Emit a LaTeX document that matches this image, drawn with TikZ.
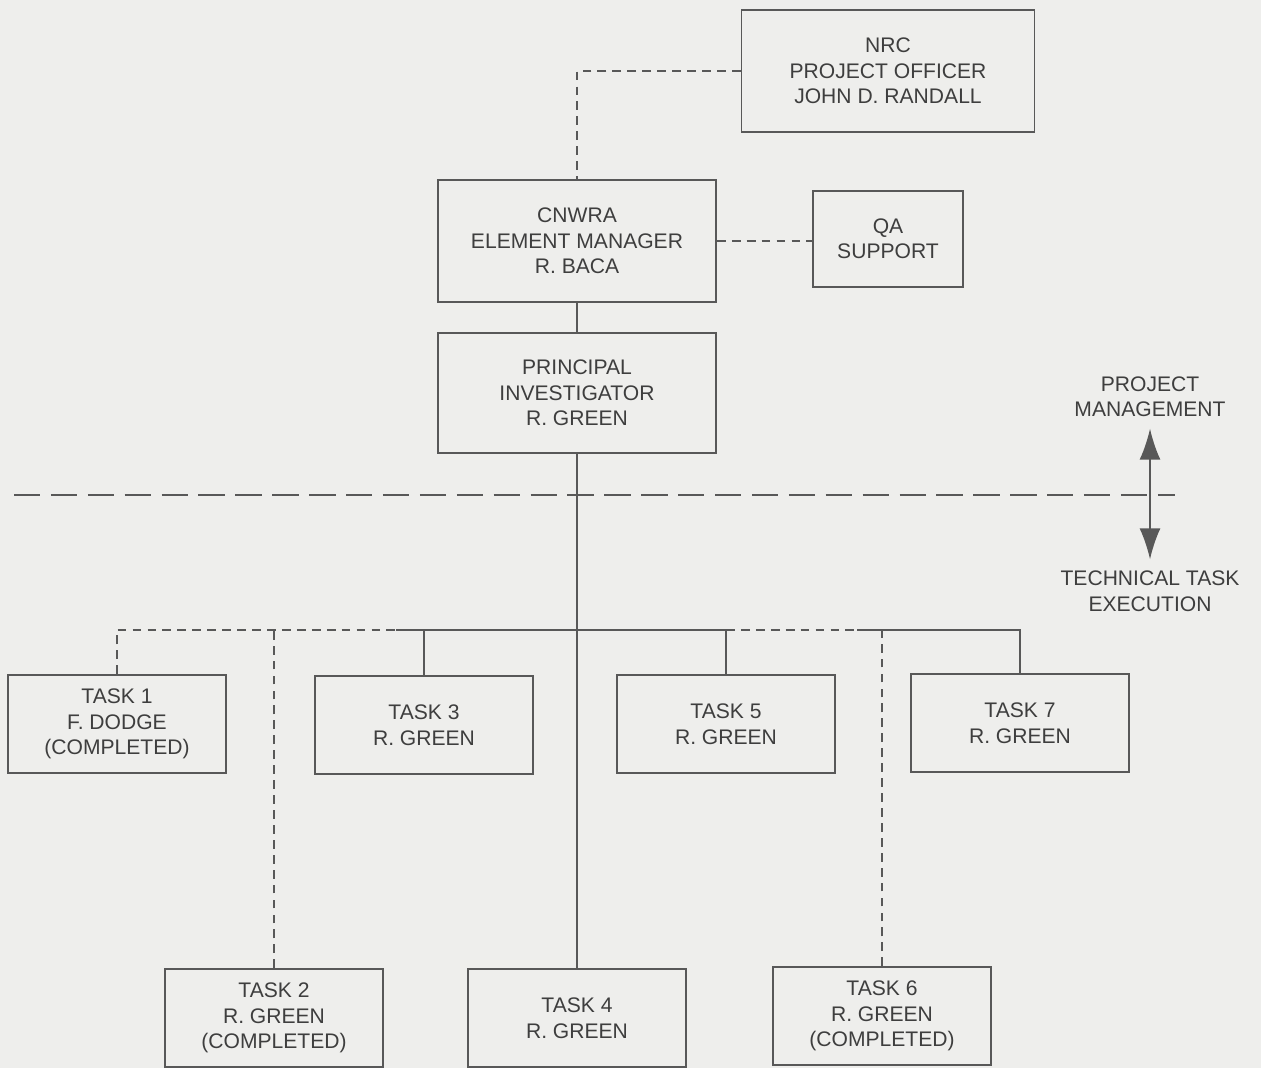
\documentclass[tikz,border=0pt]{standalone}
\usepackage{fontspec}
\setmainfont{Liberation Sans}
\usetikzlibrary{arrows.meta}
\definecolor{ink}{RGB}{88,88,88}
\definecolor{inktext}{RGB}{62,62,62}
\definecolor{paper}{RGB}{238,238,236}

\begin{document}
\begin{tikzpicture}[x=0.02cm,y=-0.02cm,
box/.style={draw=ink,line width=1pt,inner sep=0pt,align=center,
text=inktext,font=\fontsize{12}{14.5}\selectfont},
label/.style={align=center,text=inktext,font=\fontsize{12}{14.5}\selectfont},
link/.style={draw=ink,line width=0.9pt},
dashlink/.style={draw=ink,line width=0.9pt,dash pattern=on 5pt off 3.5pt},
divider/.style={draw=ink,line width=0.9pt,dash pattern=on 15pt off 6pt},
updown/.style={draw=ink,line width=1pt,
{Latex[length=0.62cm,width=0.42cm]}-{Latex[length=0.62cm,width=0.42cm]}}]

% Fond
\useasboundingbox (0,0) rectangle (1261,1068);
\fill[paper] (0,0) rectangle (1261,1068);

% Direction
\node[box,minimum width=5.86cm,minimum height=2.44cm]
(nrc)
at (888,71)
{NRC\\PROJECT OFFICER\\JOHN D. RANDALL};

\node[box,minimum width=5.56cm,minimum height=2.44cm]
(cnwra)
at (577,241)
{CNWRA\\ELEMENT MANAGER\\R. BACA};

\node[box,minimum width=3cm,minimum height=1.92cm]
(qa)
at (888,239)
{QA\\SUPPORT};

\node[box,minimum width=5.56cm,minimum height=2.4cm]
(pi)
at (577,393)
{PRINCIPAL\\INVESTIGATOR\\R. GREEN};

% Tâches
\foreach \name/\x/\y/\txt in {
t1/117/724/{TASK 1\\F. DODGE\\(COMPLETED)},
t3/424/725/{TASK 3\\R. GREEN},
t5/726/724/{TASK 5\\R. GREEN},
t7/1020/723/{TASK 7\\R. GREEN},
t2/274/1018/{TASK 2\\R. GREEN\\(COMPLETED)},
t4/577/1018/{TASK 4\\R. GREEN},
t6/882/1016/{TASK 6\\R. GREEN\\(COMPLETED)}}
{
\node[box,minimum width=4.36cm,minimum height=1.96cm]
(\name)
at (\x,\y)
{\txt};
}

% Liaisons
\draw[dashlink] (nrc.west) -| (cnwra.north);
\draw[dashlink] (cnwra.east) -- (cnwra.east -| qa.west);
\draw[link] (cnwra) -- (pi);
\draw[link] (pi.south) -- (t4.north);

% Barre des tâches
\coordinate (bus) at (577,630);
\coordinate (ds1) at (396,630);
\coordinate (ds2) at (857,630);
\draw[dashlink] (t1.north) |- (ds1);
\draw[link] (ds1) -- (t5.north |- bus);
\draw[dashlink] (t5.north |- bus) -- (ds2);
\draw[link] (ds2) -| (t7.north);
\draw[link] (t3.north) -- (t3.north |- bus);
\draw[link] (t5.north) -- (t5.north |- bus);
\draw[dashlink] (t2.north) -- (t2.north |- bus);
\draw[dashlink] (t6.north) -- (t6.north |- bus);

% Séparation
\coordinate (dl) at (14,495);
\coordinate (dr) at (1175,495);
\draw[divider] (dl) -- (dr);

\node[label]
(pm)
at (1150,397)
{PROJECT\\MANAGEMENT};

\node[label]
(te)
at (1150,591)
{TECHNICAL TASK\\EXECUTION};

\draw[updown] ([yshift=-3pt]pm.south) -- ([yshift=3pt]te.north);

\end{tikzpicture}
\end{document}
